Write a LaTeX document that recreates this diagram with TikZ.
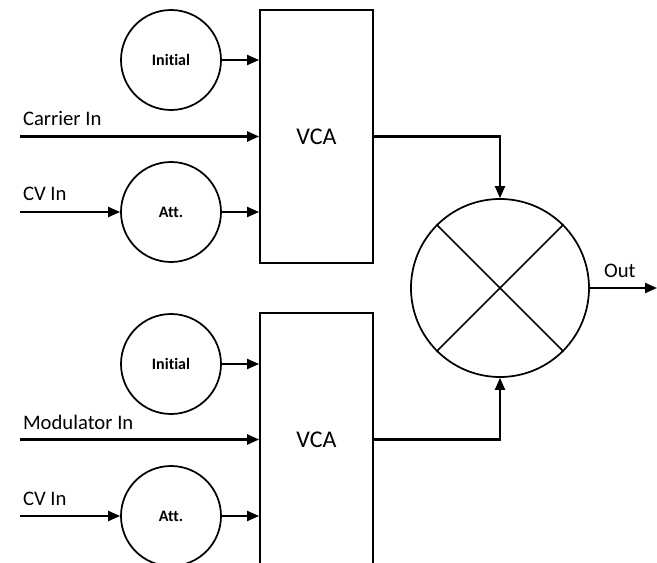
\documentclass[tikz,border=0pt]{standalone}
\usepackage{fontspec}
\setmainfont{Carlito}[Ligatures=NoCommon]
\usetikzlibrary{arrows.meta}
\begin{document}
\begin{tikzpicture}[x=0.75pt, y=-0.75pt, line width=1.6pt,
  vca/.style={rectangle, draw=black, line width=1.3pt, minimum width=84.75pt, minimum height=189.75pt, font=\fontsize{18}{20}\selectfont},
  knob/.style={circle, draw=black, line width=1.3pt, minimum size=75pt, inner sep=0pt, font=\bfseries\fontsize{12}{14}\selectfont},
  lbl/.style={anchor=base west, inner sep=0pt, font=\fontsize{15.5}{18}\selectfont},
  sig/.style={-{Triangle[length=9pt, width=7.5pt]}}]
  \useasboundingbox (0,0) rectangle (657,563);
  \clip (0,0) rectangle (657,563);
  % carrier channel
  \node[vca] (vcaA) at (316.5,136.5) {VCA};
  \node[knob] (iniA) at (171,60) {Initial};
  \node[knob] (attA) at (171,212) {Att.};
  \coordinate (carA) at (20,136.5);
  \coordinate (cvA) at (20,212);
  \node[lbl] (carLbl) at (22,126) {Carrier In};
  \node[lbl] (cvLblA) at (22,201) {CV In};
  \draw[sig] (iniA.east) -- (iniA.east -| vcaA.west);
  \draw[sig] (carA) -- (carA -| vcaA.west);
  \draw[sig] (cvA) -- (attA.west);
  \draw[sig] (attA.east) -- (attA.east -| vcaA.west);
  % modulator channel
  \node[vca] (vcaB) at (316.5,439.5) {VCA};
  \node[knob] (iniB) at (171,364) {Initial};
  \node[knob] (attB) at (171,516) {Att.};
  \coordinate (modB) at (20,439.5);
  \coordinate (cvB) at (20,516);
  \node[lbl] (modLbl) at (22,429) {Modulator In};
  \node[lbl] (cvLblB) at (22,505) {CV In};
  \draw[sig] (iniB.east) -- (iniB.east -| vcaB.west);
  \draw[sig] (modB) -- (modB -| vcaB.west);
  \draw[sig] (cvB) -- (attB.west);
  \draw[sig] (attB.east) -- (attB.east -| vcaB.west);
  % ring modulator
  \node[circle, draw=black, line width=1.3pt, minimum size=133.5pt, inner sep=0pt] (mix) at (500,288) {};
  \draw[line width=1.3pt] (mix.north west) -- (mix.south east);
  \draw[line width=1.3pt] (mix.north east) -- (mix.south west);
  \coordinate (outR) at (657,288);
  \node[lbl] (outLbl) at (603,277) {Out};
  \draw[sig] (vcaA.east) -| (mix.north);
  \draw[sig] (vcaB.east) -| (mix.south);
  \draw[sig] (mix.east) -- (outR);
\end{tikzpicture}
\end{document}
